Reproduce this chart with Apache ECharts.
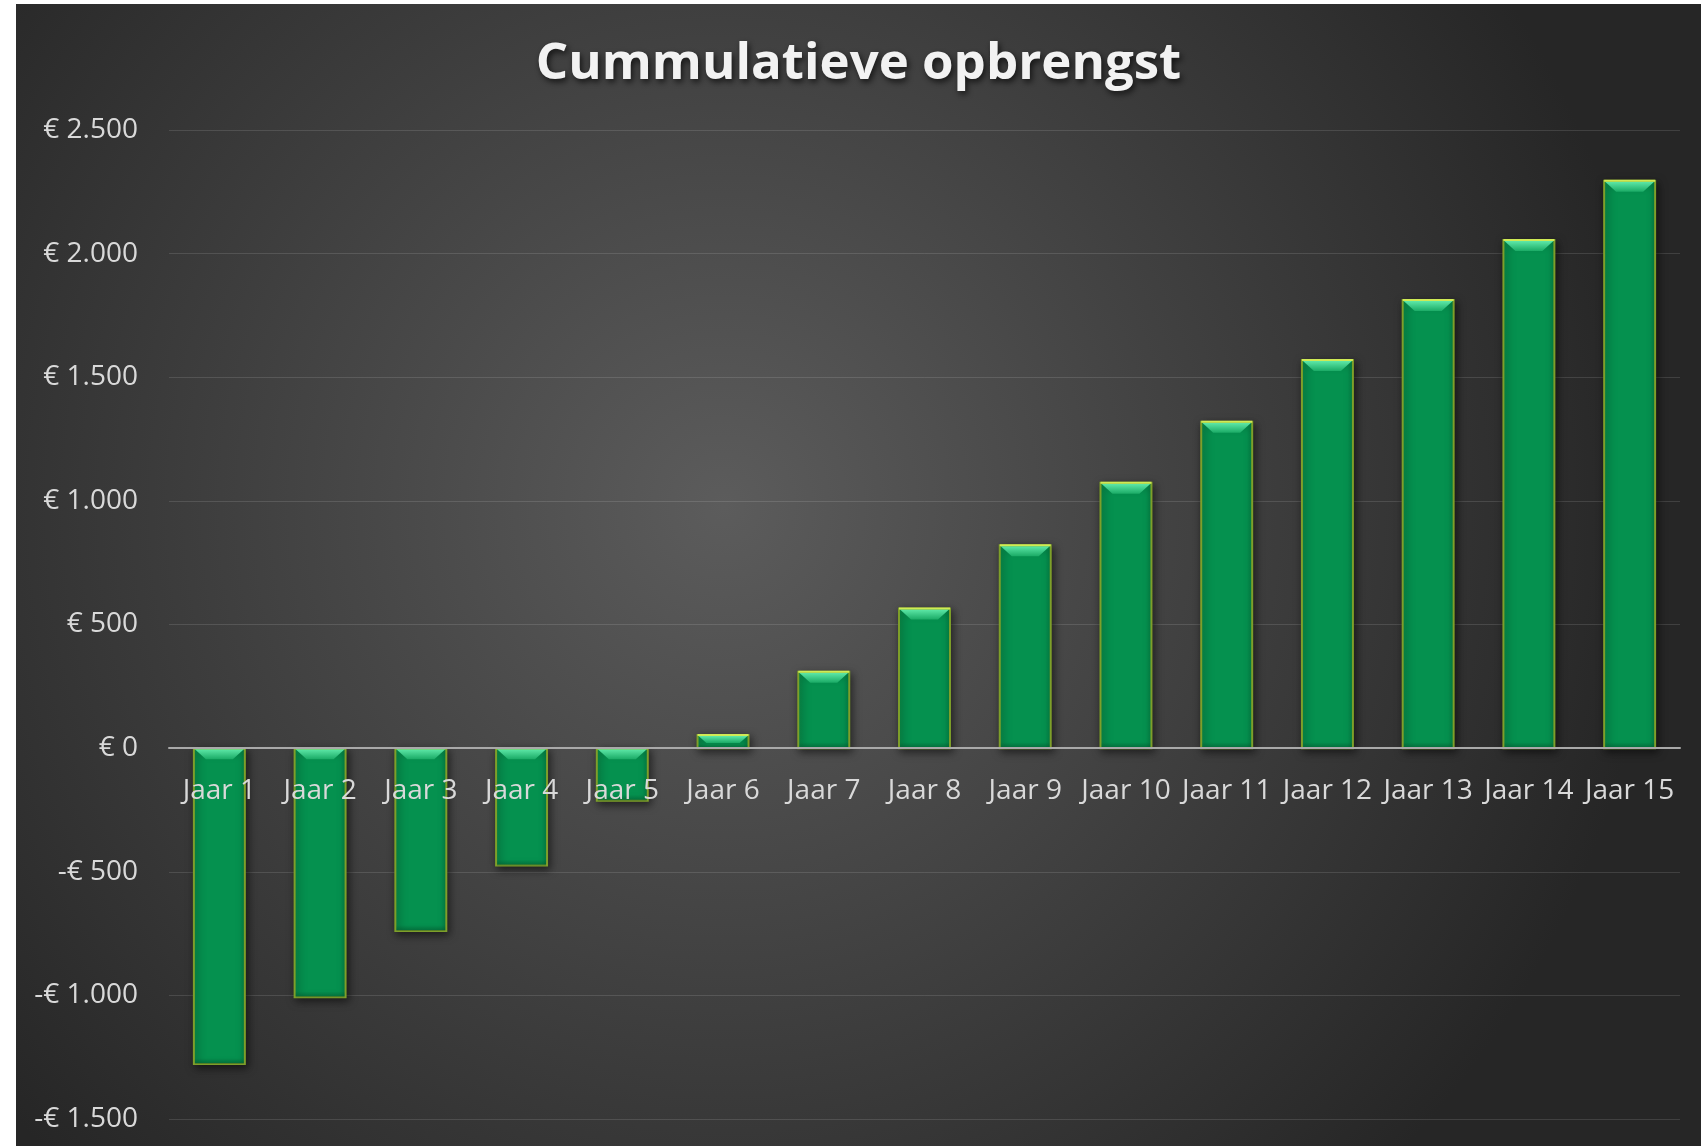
<!DOCTYPE html>
<html>
<head>
<meta charset="utf-8">
<script src="https://cdn.jsdelivr.net/npm/echarts@6/dist/echarts.min.js"></script>
<style>
html,body{margin:0;padding:0;background:#ffffff;width:1701px;height:1146px;overflow:hidden;}
#chart{position:absolute;left:16px;top:4px;width:1685px;height:1142px;}
</style>
</head>
<body>
<div id="chart"></div>
<script>
const titleText = 'Cummulatieve opbrengst';
const categories = ['Jaar 1','Jaar 2','Jaar 3','Jaar 4','Jaar 5','Jaar 6','Jaar 7','Jaar 8','Jaar 9','Jaar 10','Jaar 11','Jaar 12','Jaar 13','Jaar 14','Jaar 15'];
const values = [-1278, -1008, -740, -475, -213, 53, 309, 565, 821, 1073, 1320, 1570, 1812, 2055, 2295];
const yTickValues = [-1500, -1000, -500, 0, 500, 1000, 1500, 2000, 2500];
const yTickLabels = ['-€ 1.500', '-€ 1.000', '-€ 500', '€ 0', '€ 500', '€ 1.000', '€ 1.500', '€ 2.000', '€ 2.500'];

const yMin = -1500, yMax = 2500;
const gridTop = 126, gridBottom = 27, chartH = 1142;
const plotH = chartH - gridTop - gridBottom;
const zeroOffset = plotH * (0 - yMin) / (yMax - yMin);

const chart = echarts.init(document.getElementById('chart'), null, {renderer: 'canvas'});

function renderBar(params, api) {
  const i = api.value(0), v = api.value(1);
  const p0 = api.coord([i, 0]);
  const p1 = api.coord([i, v]);
  const bw = api.size([1, 0])[0] * 0.506;
  const x0 = p0[0] - bw / 2;
  const top = Math.min(p0[1], p1[1]);
  const h = Math.abs(p1[1] - p0[1]);
  const d = Math.min(11, h * 0.6);
  return {
    type: 'group',
    children: [
      {
        type: 'rect',
        shape: {x: x0, y: top, width: bw, height: h},
        style: {
          fill: {type: 'linear', x: 0, y: 0, x2: 1, y2: 0, colorStops: [
            {offset: 0, color: '#0a8a48'}, {offset: 0.12, color: '#05914f'},
            {offset: 0.88, color: '#05914f'}, {offset: 1, color: '#047f44'}]},
          stroke: '#7e9f2a', lineWidth: 2,
          shadowBlur: 8, shadowColor: 'rgba(0,0,0,0.55)', shadowOffsetX: 2, shadowOffsetY: 3
        }
      },
      {
        type: 'rect',
        shape: {x: x0 + 1, y: top + h - Math.min(6, h * 0.3), width: bw - 2, height: Math.min(6, h * 0.3)},
        style: {
          fill: {type: 'linear', x: 0, y: 0, x2: 0, y2: 1, colorStops: [
            {offset: 0, color: 'rgba(0,60,30,0)'}, {offset: 1, color: 'rgba(0,60,30,0.35)'}]}
        }
      },
      {
        type: 'polygon',
        shape: {points: [[x0 + 1, top + 1], [x0 + bw - 1, top + 1], [x0 + bw - 1 - d, top + d], [x0 + 1 + d, top + d]]},
        style: {
          fill: {type: 'linear', x: 0, y: 0, x2: 0, y2: 1, colorStops: [
            {offset: 0, color: '#5ee8a8'}, {offset: 1, color: '#1bab66'}]}
        }
      },
      {
        type: 'line',
        shape: {x1: x0, y1: top, x2: x0 + bw, y2: top},
        style: {stroke: '#cfea55', lineWidth: 2}
      }
    ]
  };
}

chart.setOption({
  backgroundColor: {
    type: 'radial', x: 0.42, y: 0.44, r: 0.82,
    colorStops: [{offset: 0, color: '#5c5c5c'}, {offset: 1, color: '#262626'}]
  },
  animation: false,
  title: {
    text: titleText,
    left: 'center', top: 30,
    textStyle: {
      fontFamily: 'Open Sans', fontWeight: 'bold', fontSize: 51, color: '#f2f2f2',
      textShadowColor: 'rgba(0,0,0,0.7)', textShadowBlur: 6, textShadowOffsetX: 2, textShadowOffsetY: 3
    }
  },
  grid: {left: 153, right: 21, top: gridTop, bottom: gridBottom, containLabel: false, outerBoundsMode: 'none'},
  xAxis: {
    type: 'category',
    data: categories,
    z: 5,
    offset: -zeroOffset,
    axisLine: {onZero: false, lineStyle: {color: '#a9a9a9', width: 2}},
    axisTick: {show: false},
    axisLabel: {color: '#d9d9d9', fontFamily: 'Open Sans', fontSize: 28, margin: 29, interval: 0}
  },
  yAxis: {
    type: 'value',
    min: yMin, max: yMax, interval: 500,
    axisLine: {show: false},
    axisTick: {show: false},
    splitLine: {lineStyle: {color: 'rgba(255,255,255,0.12)', width: 1}},
    axisLabel: {
      color: '#d9d9d9', fontFamily: 'Open Sans', fontSize: 28, margin: 31, padding: [8, 0, 0, 0],
      formatter: function (v) { const k = yTickValues.indexOf(v); return k >= 0 ? yTickLabels[k] : ''; }
    }
  },
  series: [{
    type: 'custom',
    renderItem: renderBar,
    data: values.map((v, i) => [i, v]),
    encode: {x: 0, y: 1},
    clip: false
  }]
});
</script>
</body>
</html>
